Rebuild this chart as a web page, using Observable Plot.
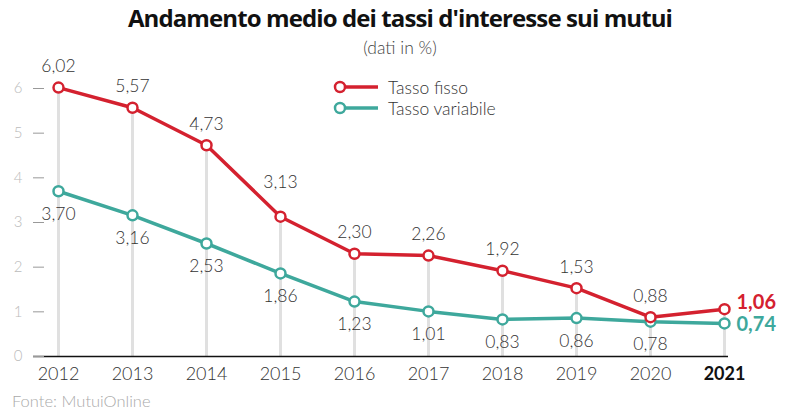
<!DOCTYPE html>
<html><head><meta charset="utf-8">
<script src="https://cdn.jsdelivr.net/npm/d3@7"></script>
<script src="https://cdn.jsdelivr.net/npm/@observablehq/plot@0.6"></script>
<style>
body{margin:0;background:#fff;font-family:Lato,"Open Sans",sans-serif;}
#wrap{position:relative;width:800px;height:419px;overflow:hidden;}
#title{height:36px;line-height:36px;text-align:center;font-weight:700;font-size:24px;color:#111;letter-spacing:-0.9px;font-family:"Open Sans",Lato,sans-serif;}
#sub{height:24px;line-height:24px;text-align:center;font-size:17.5px;color:#444;font-weight:300;}
#foot{position:absolute;left:12px;top:391px;font-size:16.5px;color:#aaa;font-weight:300;}
.leg{position:absolute;left:333px;font-size:17.5px;color:#333;display:flex;align-items:center;font-weight:300;}
.leg svg{margin-right:7px;}
</style></head><body>
<div id="wrap">
<div id="title">Andamento medio dei tassi d'interesse sui mutui</div>
<div id="sub">(dati in %)</div>
<div id="chart"></div>
<div class="leg" id="leg1" style="top:76px"></div>
<div class="leg" id="leg2" style="top:97px"></div>
<div id="foot">Fonte: MutuiOnline</div>
</div>
<script>
const years = [2012, 2013, 2014, 2015, 2016, 2017, 2018, 2019, 2020, 2021];
const tassoFisso = [6.02, 5.57, 4.73, 3.13, 2.30, 2.26, 1.92, 1.53, 0.88, 1.06];
const tassoVariabile = [3.70, 3.16, 2.53, 1.86, 1.23, 1.01, 0.83, 0.86, 0.78, 0.74];
const seriesNames = ["Tasso fisso", "Tasso variabile"];
const yTicks = [0, 1, 2, 3, 4, 5, 6];

const RED = "#d4212f", TEAL = "#3ea89c";
const fmt = v => v.toFixed(2).replace(".", ",");
const last = years[years.length - 1];

const fisso = years.map((y, i) => ({year: y, value: tassoFisso[i]}));
const variabile = years.map((y, i) => ({year: y, value: tassoVariabile[i]}));
const stems = years.map((y, i) => ({year: y, top: Math.max(tassoFisso[i], tassoVariabile[i])}));

const plot = Plot.plot({
  width: 800, height: 330,
  marginLeft: 54, marginRight: 72, marginTop: 28, marginBottom: 34,
  style: {fontFamily: "Lato, 'Open Sans', sans-serif", background: "transparent", overflow: "visible", fontWeight: 300},
  x: {type: "point", domain: years, padding: 0},
  y: {domain: [0, 6], ticks: yTicks},
  marks: [
    Plot.ruleX(stems, {x: "year", y1: 0, y2: "top", stroke: "#e0e0e0", strokeWidth: 3}),
    Plot.ruleY([0], {stroke: "#111", strokeWidth: 1.5, insetLeft: -21}),
    Plot.axisY({ticks: yTicks, tickSize: 11, dx: -10, tickPadding: 11, fontSize: 15, color: "#bbb", stroke: "#999", label: null, tickFormat: d => d}),
    Plot.axisX({tickSize: 0, tickPadding: 11, fontSize: 18, color: "#333", label: null, tickFormat: d => String(d)}),
    Plot.line(variabile, {x: "year", y: "value", stroke: TEAL, strokeWidth: 3.5}),
    Plot.line(fisso, {x: "year", y: "value", stroke: RED, strokeWidth: 3.5}),
    Plot.dot(variabile, {x: "year", y: "value", r: 5, fill: "white", stroke: TEAL, strokeWidth: 2.5}),
    Plot.dot(fisso, {x: "year", y: "value", r: 5, fill: "white", stroke: RED, strokeWidth: 2.5}),
    Plot.text(fisso.filter(d => d.year !== last && d.year !== 2015), {x: "year", y: "value", text: d => fmt(d.value), dy: -21, fontSize: 17.5, fill: "#333"}),
    Plot.text(fisso.filter(d => d.year === 2015), {x: "year", y: "value", text: d => fmt(d.value), dy: -34, fontSize: 17.5, fill: "#333"}),
    Plot.text(variabile.filter(d => d.year !== last), {x: "year", y: "value", text: d => fmt(d.value), dy: 23, fontSize: 17.5, fill: "#333"}),
    Plot.text(fisso.filter(d => d.year === last), {x: "year", y: "value", text: d => fmt(d.value), dx: 12, dy: -7, textAnchor: "start", fontSize: 20, fontWeight: "bold", fill: RED}),
    Plot.text(variabile.filter(d => d.year === last), {x: "year", y: "value", text: d => fmt(d.value), dx: 12, dy: 1, textAnchor: "start", fontSize: 20, fontWeight: "bold", fill: TEAL})
  ]
});
d3.select(plot).selectAll("text").filter(function(){ return this.textContent === String(last); })
  .attr("font-weight", "bold").attr("fill", "#111");
document.getElementById("chart").appendChild(plot);

function legItem(id, name, color) {
  const el = document.getElementById(id);
  el.innerHTML = `<svg width="48" height="22"><line x1="7" y1="11" x2="45" y2="11" stroke="${color}" stroke-width="3.5"/><circle cx="7" cy="11" r="5" fill="white" stroke="${color}" stroke-width="2.5"/></svg><span>${name}</span>`;
}
legItem("leg1", seriesNames[0], RED);
legItem("leg2", seriesNames[1], TEAL);
</script>
</body></html>
